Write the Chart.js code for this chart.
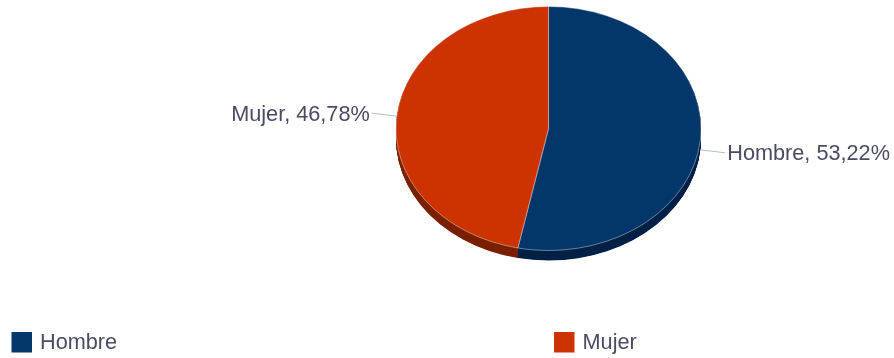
<!DOCTYPE html>
<html>
<head>
<meta charset="utf-8">
<script src="https://cdn.jsdelivr.net/npm/chart.js@4.4.1/dist/chart.umd.min.js"></script>
<style>
  html, body { margin: 0; padding: 0; background: #ffffff; }
  canvas { display: block; }
</style>
</head>
<body>
<canvas id="pieChart" width="894" height="358"></canvas>
<script>
const labels = ["Hombre", "Mujer"];
const percentages = [53.22, 46.78];
const colors = ["#03366a", "#cc3300"];
const sideColors = ["#012247", "#7a2100"];

const TILT = 0.8;   // aplastamiento vertical del "3D"
const DEPTH = 10;   // grosor en px de pantalla
const FONT = '21.7px "Liberation Sans", Arial, sans-serif';
const TEXT_COLOR = "#4a4b62";

function fmt(v) {
  return v.toFixed(2).replace(".", ",") + "%";
}

// Pie inclinado con canto
const tiltPlugin = {
  id: "tilt3d",
  beforeDatasetsDraw(chart) {
    const ctx = chart.ctx;
    const arcs = chart.getDatasetMeta(0).data;
    if (!arcs.length) return;
    const cx = arcs[0].x, cy = arcs[0].y;
    ctx.save();
    ctx.translate(cx, cy);
    ctx.scale(1, TILT);
    ctx.translate(-cx, -cy);
    const depth = DEPTH / TILT;
    for (let d = depth; d > 0; d -= 0.5) {
      arcs.forEach((arc, i) => {
        ctx.beginPath();
        ctx.moveTo(arc.x, arc.y + d);
        ctx.arc(arc.x, arc.y + d, arc.outerRadius, arc.startAngle, arc.endAngle);
        ctx.closePath();
        ctx.fillStyle = sideColors[i];
        ctx.fill();
      });
    }
  },
  afterDatasetsDraw(chart) {
    chart.ctx.restore();
  }
};

// Etiquetas con línea guía
const labelPlugin = {
  id: "pieLabels",
  afterDraw(chart, args, opts) {
    const ctx = chart.ctx;
    const arcs = chart.getDatasetMeta(0).data;
    ctx.save();
    ctx.font = FONT;
    ctx.fillStyle = TEXT_COLOR;
    ctx.strokeStyle = "#b3bccb";
    ctx.lineWidth = 1;
    ctx.textBaseline = "middle";
    arcs.forEach((arc, i) => {
      const mid = (arc.startAngle + arc.endAngle) / 2;
      const dir = Math.cos(mid) >= 0 ? 1 : -1;
      const dirY = Math.sin(mid) >= 0 ? 1 : -1;
      const nudge = (opts.nudgeY || [])[i] || 0;
      const ex = arc.x + arc.outerRadius * Math.cos(mid);
      const ey = arc.y + arc.outerRadius * Math.sin(mid) * TILT + nudge;
      const lx = ex + dir * 25;
      const ly = ey + dirY * 3;
      ctx.beginPath();
      ctx.moveTo(ex, ey);
      ctx.lineTo(lx, ly);
      ctx.stroke();
      ctx.textAlign = dir > 0 ? "left" : "right";
      ctx.fillText(labels[i] + ", " + fmt(percentages[i]), lx + dir * 2, ly + 1.5);
    });
    ctx.restore();
  }
};

// Leyenda en dos columnas
const legendPlugin = {
  id: "colLegend",
  afterDraw(chart) {
    const ctx = chart.ctx;
    ctx.save();
    ctx.font = FONT;
    ctx.textBaseline = "middle";
    ctx.textAlign = "left";
    labels.forEach((name, i) => {
      const x0 = 11.5 + i * 542.5;
      ctx.fillStyle = colors[i];
      ctx.fillRect(x0, 332, 20.5, 20.5);
      ctx.fillStyle = TEXT_COLOR;
      ctx.fillText(name, x0 + 28.5, 343);
    });
    ctx.restore();
  }
};

const ctx = document.getElementById("pieChart").getContext("2d");
new Chart(ctx, {
  type: "pie",
  data: {
    labels: labels,
    datasets: [
      {
        data: percentages,
        backgroundColor: colors,
        borderColor: "rgba(255,255,255,0.45)",
        borderWidth: 1,
        radius: 152.5,
        clip: false
      }
    ]
  },
  options: {
    responsive: false,
    animation: false,
    devicePixelRatio: 1,
    layout: { padding: { left: 203, right: 0, top: 0, bottom: 101 } },
    plugins: {
      legend: { display: false },
      tooltip: { enabled: false },
      pieLabels: { nudgeY: [9, 0] }
    }
  },
  plugins: [tiltPlugin, labelPlugin, legendPlugin]
});
</script>
</body>
</html>
